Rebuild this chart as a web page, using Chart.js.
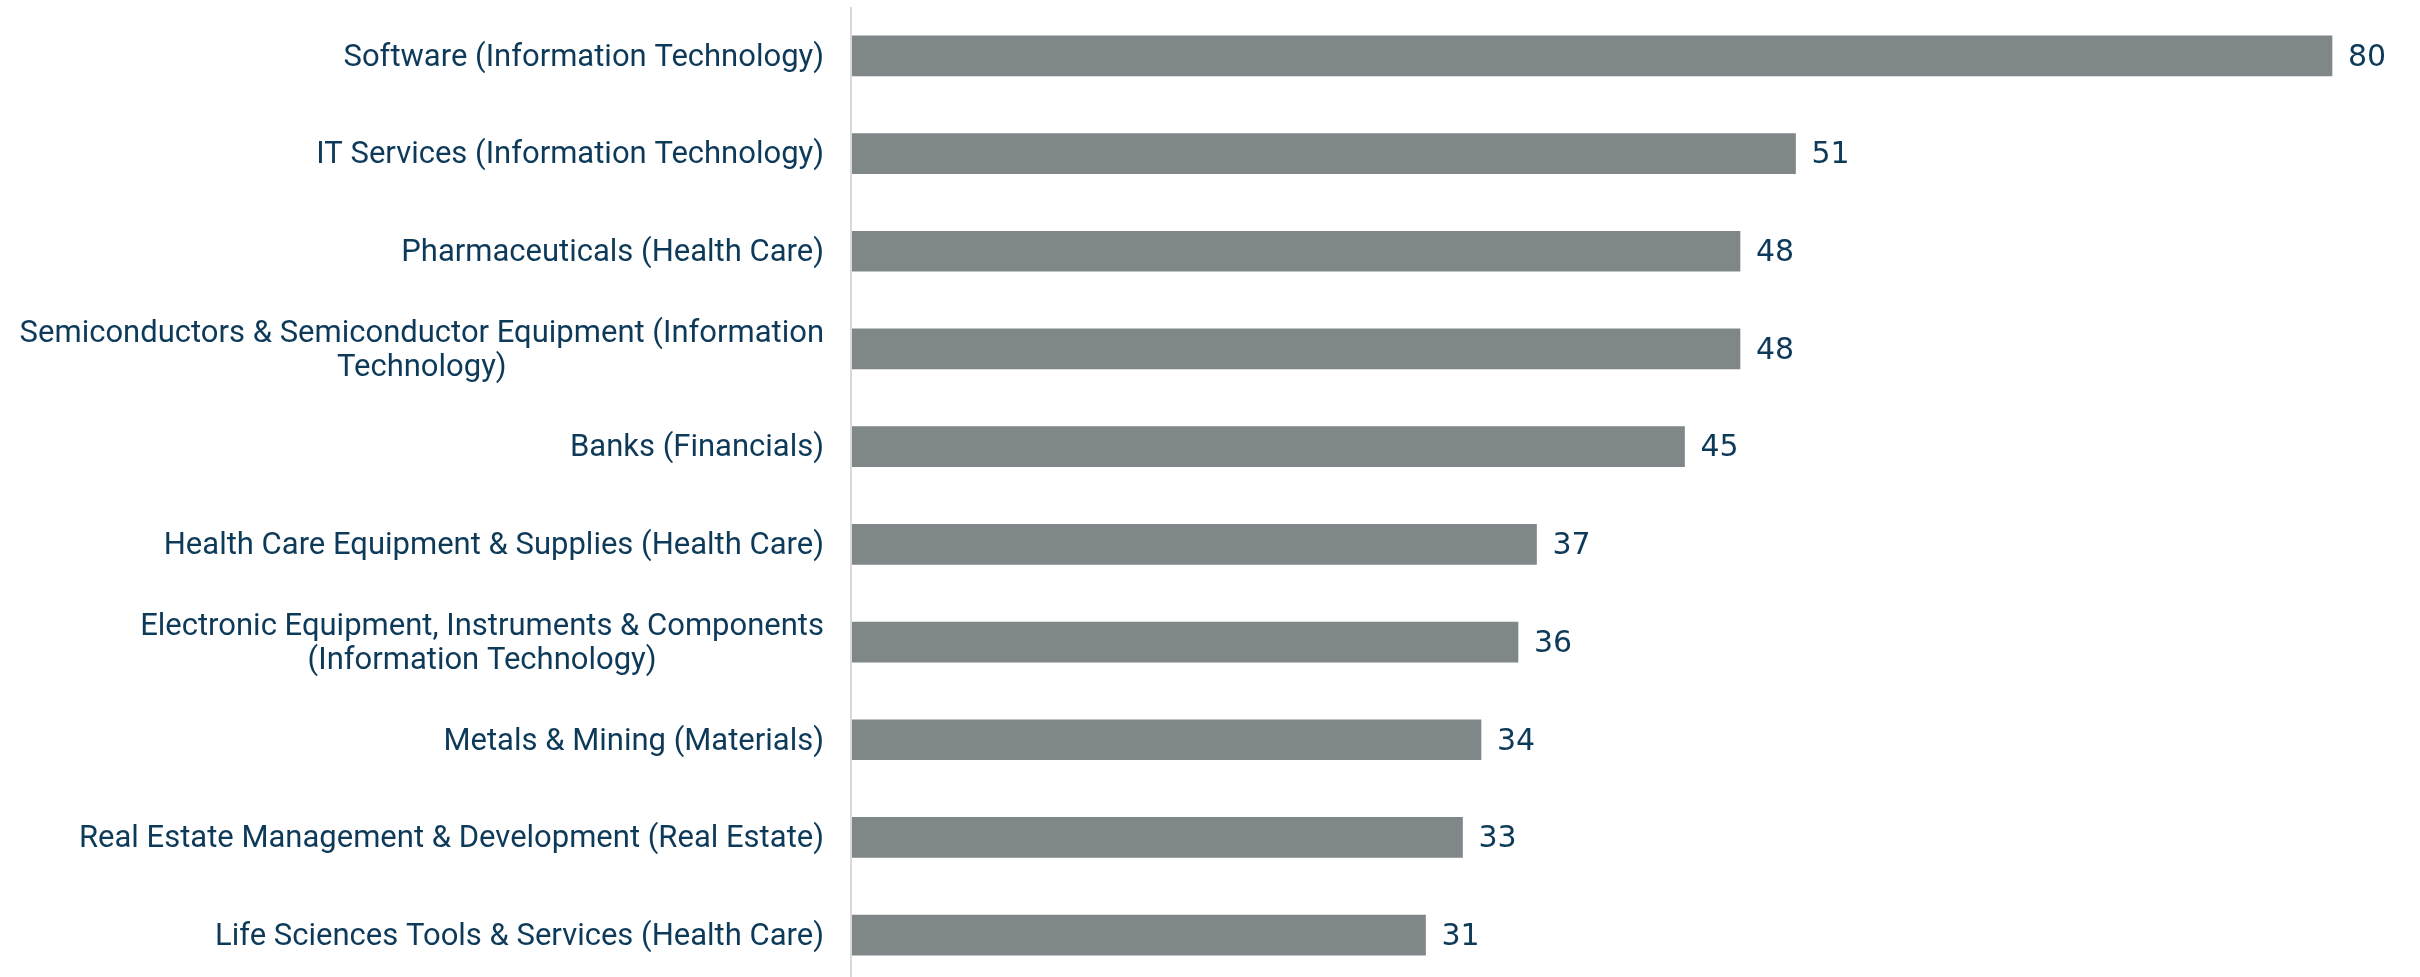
<!DOCTYPE html>
<html>

<head>
    <title>Industries</title>
    <script src="https://cdn.jsdelivr.net/npm/chart.js"></script>
    <style>
        html, body { margin: 0; padding: 0; background: #fff; overflow: hidden; }
        .bar-chart { width: 2420px; height: 984px; }
    </style>
</head>

<body>
    <div class="bar-chart">
        <canvas id="chart"></canvas>
    </div>

    <script type="text/javascript">
        // categories, split where the reference wraps them
        const industries = [
            ['Software (Information Technology)'],
            ['IT Services (Information Technology)'],
            ['Pharmaceuticals (Health Care)'],
            ['Semiconductors & Semiconductor Equipment (Information', 'Technology)'],
            ['Banks (Financials)'],
            ['Health Care Equipment & Supplies (Health Care)'],
            ['Electronic Equipment, Instruments & Components', '(Information Technology)'],
            ['Metals & Mining (Materials)'],
            ['Real Estate Management & Development (Real Estate)'],
            ['Life Sciences Tools & Services (Health Care)'],
        ]
        const counts = [80, 51, 48, 48, 45, 37, 36, 34, 33, 31]

        const textColor = '#0e3a5a'

        // draws category labels, value labels and the left axis line
        const labelsPlugin = {
            id: 'labels',
            afterDatasetsDraw(chart) {
                const c = chart.ctx
                const area = chart.chartArea
                const yScale = chart.scales.y

                c.save()
                c.strokeStyle = '#d9d9d9'
                c.lineWidth = 2
                c.beginPath()
                c.moveTo(area.left - 1, area.top)
                c.lineTo(area.left - 1, area.bottom)
                c.stroke()

                c.fillStyle = textColor
                c.textBaseline = 'middle'
                c.font = '31px Roboto, "DejaVu Sans", sans-serif'
                const lineH = 34
                industries.forEach((lines, i) => {
                    const y = yScale.getPixelForValue(i) + 2
                    const widths = lines.map(l => c.measureText(l).width)
                    const maxW = Math.max(...widths)
                    const right = area.left - 28
                    const top = y - (lines.length - 1) * lineH / 2
                    lines.forEach((l, j) => {
                        c.textAlign = 'center'
                        c.fillText(l, right - maxW / 2, top + j * lineH)
                    })
                })

                c.font = '30px "DejaVu Sans", sans-serif'
                c.textAlign = 'left'
                const meta = chart.getDatasetMeta(0)
                meta.data.forEach((bar, i) => {
                    c.fillText(String(counts[i]), bar.x + 16, bar.y + 2)
                })
                c.restore()
            }
        }

        const ctx = document.getElementById('chart');
        let chart = new Chart(ctx, {
            type: 'bar',
            data: {
                labels: industries,
                datasets: [{
                    data: counts,
                    backgroundColor: '#7f8789',
                    barThickness: 40,
                }]
            },
            options: {
                indexAxis: 'y',
                responsive: true,
                maintainAspectRatio: false,
                animation: false,
                layout: { padding: { left: 852, right: 14, top: 7, bottom: 0 } },
                plugins: {
                    legend: { display: false },
                    tooltip: { enabled: false },
                },
                scales: {
                    x: { display: false, min: 0, max: 84 },
                    y: { display: false },
                },
            },
            plugins: [labelsPlugin],
        })
    </script>
</body>

</html>
